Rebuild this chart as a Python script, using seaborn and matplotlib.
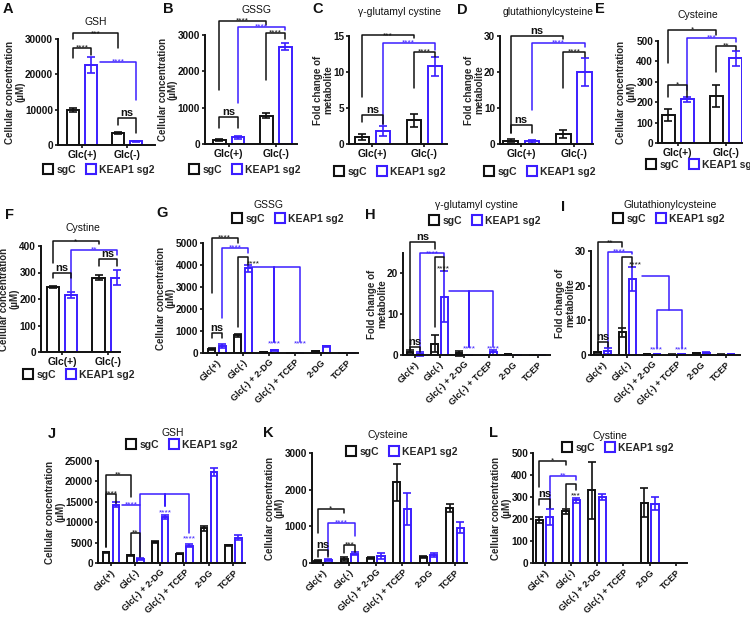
import matplotlib
matplotlib.use("Agg")
import matplotlib.pyplot as plt
from matplotlib.lines import Line2D
import numpy as np
import pandas as pd
import seaborn as sns

W, H = 750, 620
BLACK = "#111111"
BLUE = "#3B1EFF"
COLORS = {"k": BLACK, "b": BLUE}

GROUPS = ["sgC", "KEAP1 sg2"]
CATS_2 = ["Glc(+)", "Glc(-)"]
CATS_6 = ["Glc(+)", "Glc(-)", "Glc(-) + 2-DG", "Glc(-) + TCEP", "2-DG", "TCEP"]
CONC = "Cellular concentration\n(µM)"
FOLD = "Fold change of\nmetabolite"

# A: GSH
A_SGC, A_SGC_ERR = [9900, 3400], [600, 200]
A_KEAP, A_KEAP_ERR = [22700, 1000], [2200, 250]
A_BR = [(-0.2, 0.2, 27450, 24500, 25500, "****", "k"),
        (-0.2, 0.8, 31600, 29900, 27400, "***", "k"),
        (0.4, 1.2, 23500, 23500, 12700, "****", "b"),
        (0.8, 1.2, 7640, 5660, 3400, "ns", "k")]
# B: GSSG
B_SGC, B_SGC_ERR = [120, 780], [30, 60]
B_KEAP, B_KEAP_ERR = [180, 2680], [40, 100]
B_BR = [(-0.2, 0.8, 3380, 1485, 3270, "****", "k"),
        (0.2, 1.2, 3220, 1130, 3135, "****", "b"),
        (0.8, 1.2, 3050, 1760, 2890, "****", "k"),
        (-0.2, 0.2, 740, 440, 440, "ns", "k")]
# C: gamma-glutamyl cystine
C_SGC, C_SGC_ERR = [1.0, 3.3], [0.4, 0.9]
C_KEAP, C_KEAP_ERR = [1.8, 10.8], [0.7, 1.3]
C_BR = [(-0.2, 0.8, 15.1, 6.5, 14.7, "***", "k"),
        (0.2, 1.2, 14.0, 2.6, 13.05, "****", "b"),
        (0.8, 1.2, 12.8, 7.8, 12.1, "****", "k"),
        (-0.2, 0.2, 4.0, 3.05, 2.8, "ns", "k")]
# D: glutathionylcysteine
D_SGC, D_SGC_ERR = [0.9, 2.8], [0.4, 1.0]
D_KEAP, D_KEAP_ERR = [0.7, 20.0], [0.4, 3.9]
D_BR = [(-0.2, 0.8, 30.0, 3.0, 29.3, "ns", "k"),
        (0.2, 1.2, 28.1, 9.4, 27.0, "****", "b"),
        (0.8, 1.2, 25.6, 15.6, 24.2, "****", "k"),
        (-0.2, 0.2, 5.3, 3.0, 3.0, "ns", "k")]
# E: Cysteine
E_SGC, E_SGC_ERR = [138, 230], [28, 52]
E_KEAP, E_KEAP_ERR = [215, 415], [12, 38]
E_BR = [(-0.2, 0.8, 554, 392, 529, "*", "k"),
        (0.2, 1.2, 515, 260, 495, "***", "b"),
        (0.8, 1.2, 475, 348, 456, "**", "k"),
        (-0.2, 0.2, 284, 225, 225, "*", "k")]
# F: Cystine
F_SGC, F_SGC_ERR = [245, 280], [3, 10]
F_KEAP, F_KEAP_ERR = [215, 280], [12, 28]
F_BR = [(-0.2, 0.8, 418, 335, 407, "*", "k"),
        (0.2, 1.2, 385, 230, 366, "**", "b"),
        (0.8, 1.2, 350, 324, 324, "ns", "k"),
        (-0.2, 0.2, 298, 279, 279, "ns", "k")]
# G: GSSG
G_SGC, G_SGC_ERR = [180, 800, 40, 10, 70, 10], [30, 80, 10, 5, 20, 5]
G_KEAP, G_KEAP_ERR = [320, 3850, 130, 10, 300, 10], [90, 150, 20, 5, 30, 5]
G_BR = [(-0.2, 0.8, 5230, 2730, 5000, "****", "k"),
        (0.2, 1.2, 4770, 1590, 4545, "****", "b"),
        (0.8, 1.2, 4360, 1180, 4000, "", "k"),
        (1.2, 3.2, 3910, 3910, 500, "", "b"),
        (2.2, 2.2, 3910, 500, 500, "", "b"),
        (-0.2, 0.2, 910, 680, 680, "ns", "k")]
G_TXT = [(1.38, 4130, "****", "k"), (2.2, 500, "****", "b"), (3.2, 500, "****", "b")]
# H: gamma-glutamyl cystine
H_SGC, H_SGC_ERR = [0.8, 2.8, 0.4, 0.0, 0.2, 0.0], [0.4, 2.1, 0.6, 0.0, 0.1, 0.0]
H_KEAP, H_KEAP_ERR = [0.3, 14.3, 0.0, 0.7, 0.0, 0.0], [0.5, 6.2, 0.0, 0.6, 0.0, 0.0]
H_BR = [(-0.2, 0.8, 27.7, 1.2, 25.9, "ns", "k"),
        (0.2, 1.2, 24.9, 1.2, 24.0, "****", "b"),
        (0.8, 1.2, 24.0, 6.9, 20.5, "", "k"),
        (1.4, 3.2, 15.8, 15.8, 2.0, "", "b"),
        (2.2, 2.2, 15.8, 2.0, 2.0, "", "b"),
        (-0.2, 0.2, 1.9, 1.2, 0.8, "ns", "k")]
H_TXT = [(1.15, 21.5, "****", "k"), (2.2, 2.0, "****", "b"), (3.2, 2.0, "****", "b")]
# I: Glutathionylcysteine
I_SGC, I_SGC_ERR = [0.8, 6.5, 0.2, 0.1, 0.5, 0.1], [0.2, 1.2, 0.1, 0.05, 0.2, 0.05]
I_KEAP, I_KEAP_ERR = [1.2, 22.0, 0.3, 0.3, 0.6, 0.2], [0.9, 3.5, 0.1, 0.1, 0.4, 0.05]
I_BR = [(-0.2, 0.8, 32.5, 1.1, 31.1, "**", "k"),
        (0.2, 1.2, 29.7, 2.2, 29.1, "****", "b"),
        (0.8, 1.2, 28.2, 7.8, 25.5, "", "k"),
        (1.6, 2.7, 22.8, 22.8, 13.0, "", "b"),
        (2.2, 3.2, 13.0, 2.0, 2.0, "", "b"),
        (-0.2, 0.2, 3.7, 1.1, 2.3, "ns", "k")]
I_TXT = [(1.32, 26.5, "****", "k"), (2.2, 2.0, "****", "b"), (3.2, 2.0, "****", "b")]
# J: GSH
J_SGC, J_SGC_ERR = [2600, 1900, 5200, 2300, 8500, 4300], [200, 150, 200, 200, 600, 200]
J_KEAP, J_KEAP_ERR = [14300, 1000, 11200, 4200, 22300, 6200], [600, 150, 500, 400, 1000, 600]
J_BR = [(-0.2, 0.8, 21560, 3900, 16170, "**", "k"),
        (-0.2, 0.2, 16900, 3900, 14700, "****", "k"),
        (0.45, 1.2, 14200, 14200, 1470, "****", "b"),
        (1.2, 3.2, 16900, 14200, 7350, "", "b"),
        (2.2, 2.2, 16900, 14000, 14000, "", "b"),
        (0.8, 1.2, 7350, 1960, 1470, "**", "k")]
J_TXT = [(2.2, 12800, "****", "b"), (3.2, 6300, "****", "b")]
# K: Cysteine
K_SGC, K_SGC_ERR = [50, 110, 130, 2200, 160, 1500], [20, 50, 30, 500, 20, 120]
K_KEAP, K_KEAP_ERR = [80, 250, 180, 1480, 220, 960], [20, 40, 80, 430, 50, 150]
K_BR = [(-0.2, 0.8, 1470, 820, 1360, "*", "k"),
        (0.2, 1.2, 1090, 220, 740, "****", "b"),
        (0.8, 1.2, 490, 270, 300, "***", "k"),
        (-0.2, 0.2, 355, 160, 160, "ns", "k")]
# L: Cystine
L_SGC, L_SGC_ERR = [195, 235, 330, np.nan, 275, np.nan], [15, 10, 130, np.nan, 65, np.nan]
L_KEAP, L_KEAP_ERR = [210, 285, 300, np.nan, 270, np.nan], [35, 12, 15, np.nan, 28, np.nan]
L_BR = [(-0.2, 0.8, 464, 345, 445, "*", "k"),
        (0.2, 1.2, 395, 250, 377, "**", "b"),
        (0.8, 1.2, 359, 250, 332, "", "k"),
        (-0.2, 0.2, 291, 264, 250, "ns", "k")]
L_TXT = [(1.2, 314, "***", "k")]

sns.set_theme(style="ticks")
plt.rcParams["font.family"] = ["Liberation Sans", "DejaVu Sans"]
fig = plt.figure(figsize=(W / 100, H / 100), dpi=100)


def sig_text(ax, x, y, label, color, va="bottom"):
    if label == "ns":
        ax.annotate(label, (x, y), xytext=(0, 0.3), textcoords="offset points",
                    ha="center", va=va, fontsize=8, fontweight="bold",
                    color=color, annotation_clip=False)
    else:
        # asterisks sit high in the em box, so anchor on the baseline
        off = -1.2 if va == "bottom" else -2.5
        ax.annotate(label, (x, y), xytext=(0, off), textcoords="offset points",
                    ha="center", va="baseline", fontsize=6, color=color,
                    annotation_clip=False)


def draw_panel(rect, cats, sgc, sgc_err, keap, keap_err, xlim, ylim, yticks,
               ylabel, brackets, texts=()):
    left, right, y0, ytop = rect
    ax = fig.add_axes([left / W, 1 - y0 / H, (right - left) / W, (y0 - ytop) / H])
    n = len(cats)
    df = pd.DataFrame({"cond": cats * 2,
                       "group": [GROUPS[0]] * n + [GROUPS[1]] * n,
                       "val": list(sgc) + list(keap)}).dropna()
    sns.barplot(data=df, x="cond", y="val", hue="group", order=cats,
                hue_order=GROUPS, palette=[BLACK, BLUE], fill=False,
                errorbar=None, width=0.8, gap=0.32, linewidth=1.4,
                legend=False, ax=ax)
    errs = [sgc_err, keap_err]
    for cont, err, color in zip(ax.containers, errs, [BLACK, BLUE]):
        for patch in cont:
            cx = patch.get_x() + patch.get_width() / 2
            ax.errorbar(cx, patch.get_height(), yerr=err[int(round(cx))],
                        fmt="none", ecolor=color, elinewidth=1.2, capsize=2.6,
                        capthick=1.2, clip_on=False)
    for x1, x2, y, yl, yr, label, c in brackets:
        ax.plot([x1, x1, x2, x2], [yl, y, y, yr], color=COLORS[c], lw=1.1,
                clip_on=False)
        if label:
            sig_text(ax, (x1 + x2) / 2, y, label, COLORS[c])
    for x, y, label, c in texts:
        sig_text(ax, x, y, label, COLORS[c], va="center")

    ax.set_xlim(*xlim)
    ax.set_ylim(*ylim)
    ax.set_yticks(yticks)
    ax.set_xlabel("")
    ax.set_ylabel(ylabel, fontsize=7, fontweight="bold", labelpad=0,
                  linespacing=1.0)
    ax.set_xticks(range(n))
    if n > 2:
        ax.set_xticklabels(cats, rotation=45, ha="right",
                           rotation_mode="anchor", fontsize=6.5,
                           fontweight="bold")
    else:
        ax.set_xticklabels(cats, fontsize=7.5, fontweight="bold")
    for lab in ax.get_yticklabels():
        lab.set_fontsize(7.2)
        lab.set_fontweight("bold")
    ax.tick_params(length=2.5, width=1.2, pad=1, colors=BLACK)
    sns.despine(ax=ax)
    for side in ("left", "bottom"):
        ax.spines[side].set_linewidth(1.4)
        ax.spines[side].set_color(BLACK)
    return ax


def legend_at(x, y):
    handles = [Line2D([], [], marker="s", ls="none", mfc="none", mec=c,
                      mew=1.5, ms=7) for c in (BLACK, BLUE)]
    fig.legend(handles, GROUPS, loc="center", bbox_to_anchor=(x / W, 1 - y / H),
               ncol=2, frameon=False, handletextpad=0.3, columnspacing=0.9,
               handlelength=1.0, borderpad=0,
               prop={"size": 7.5, "weight": "bold"})


def label_at(x, y, text, size=7.5, weight="normal"):
    fig.text(x / W, 1 - y / H, text, ha="center", va="center",
             fontsize=size, fontweight=weight, color=BLACK)


draw_panel((58, 155, 145, 39), CATS_2, A_SGC, A_SGC_ERR, A_KEAP, A_KEAP_ERR,
           (-0.53, 1.62), (0, 30000), np.arange(0, 30001, 10000), CONC, A_BR)
draw_panel((205, 297, 144, 35), CATS_2, B_SGC, B_SGC_ERR, B_KEAP, B_KEAP_ERR,
           (-0.5, 1.45), (0, 3000), np.arange(0, 3001, 1000), CONC, B_BR)
draw_panel((349, 447, 144, 36), CATS_2, C_SGC, C_SGC_ERR, C_KEAP, C_KEAP_ERR,
           (-0.45, 1.44), (0, 15), [0, 5, 10, 15], FOLD, C_BR)
draw_panel((500, 593, 144, 36), CATS_2, D_SGC, D_SGC_ERR, D_KEAP, D_KEAP_ERR,
           (-0.40, 1.36), (0, 30), [0, 10, 20, 30], FOLD, D_BR)
draw_panel((658, 742, 143, 41), CATS_2, E_SGC, E_SGC_ERR, E_KEAP, E_KEAP_ERR,
           (-0.41, 1.33), (0, 500), np.arange(0, 501, 100), CONC, E_BR)
draw_panel((41, 120, 352, 246), CATS_2, F_SGC, F_SGC_ERR, F_KEAP, F_KEAP_ERR,
           (-0.46, 1.27), (0, 400), np.arange(0, 401, 100), CONC, F_BR)
draw_panel((203, 358, 353, 243), CATS_6, G_SGC, G_SGC_ERR, G_KEAP, G_KEAP_ERR,
           (-0.54, 5.42), (0, 5000), np.arange(0, 5001, 1000), CONC, G_BR, G_TXT)
draw_panel((403, 550, 355, 253), CATS_6, H_SGC, H_SGC_ERR, H_KEAP, H_KEAP_ERR,
           (-0.49, 5.51), (0, 25), [0, 10, 20], FOLD, H_BR, H_TXT)
draw_panel((591, 740, 355, 251), CATS_6, I_SGC, I_SGC_ERR, I_KEAP, I_KEAP_ERR,
           (-0.47, 5.57), (0, 30), [0, 10, 20, 30], FOLD, I_BR, I_TXT)
draw_panel((98, 245, 563, 461), CATS_6, J_SGC, J_SGC_ERR, J_KEAP, J_KEAP_ERR,
           (-0.53, 5.47), (0, 25000), np.arange(0, 25001, 5000), CONC, J_BR, J_TXT)
draw_panel((312, 467, 563, 453), CATS_6, K_SGC, K_SGC_ERR, K_KEAP, K_KEAP_ERR,
           (-0.42, 5.46), (0, 3000), np.arange(0, 3001, 1000), CONC, K_BR)
draw_panel((533, 687, 563, 453), CATS_6, L_SGC, L_SGC_ERR, L_KEAP, L_KEAP_ERR,
           (-0.44, 5.42), (0, 500), np.arange(0, 501, 100), CONC, L_BR, L_TXT)

for x, y in [(99, 170), (245, 170), (390, 172), (540, 172), (702, 165),
             (79, 375), (288, 219), (485, 221), (669, 219),
             (182, 445), (402, 452), (618, 448)]:
    legend_at(x, y)

for x, y, t in [(96, 22, "GSH"), (257, 10, "GSSG"), (399, 12, "γ-glutamyl cystine"),
                (548, 12, "glutathionylcysteine"), (698, 15, "Cysteine"),
                (83, 228, "Cystine"), (269, 205, "GSSG"),
                (476, 205, "γ-glutamyl cystine"), (670, 205, "Glutathionylcysteine"),
                (173, 433, "GSH"), (388, 435, "Cysteine"), (610, 436, "Cystine")]:
    label_at(x, y, t)

for x, y, t in [(8, 9, "A"), (168, 9, "B"), (318, 9, "C"), (462, 10, "D"),
                (600, 9, "E"), (9, 215, "F"), (162, 213, "G"), (370, 215, "H"),
                (563, 207, "I"), (52, 434, "J"), (268, 433, "K"), (494, 433, "L")]:
    label_at(x, y, t, size=10.5, weight="bold")

fig.savefig("out.png", dpi=100)
